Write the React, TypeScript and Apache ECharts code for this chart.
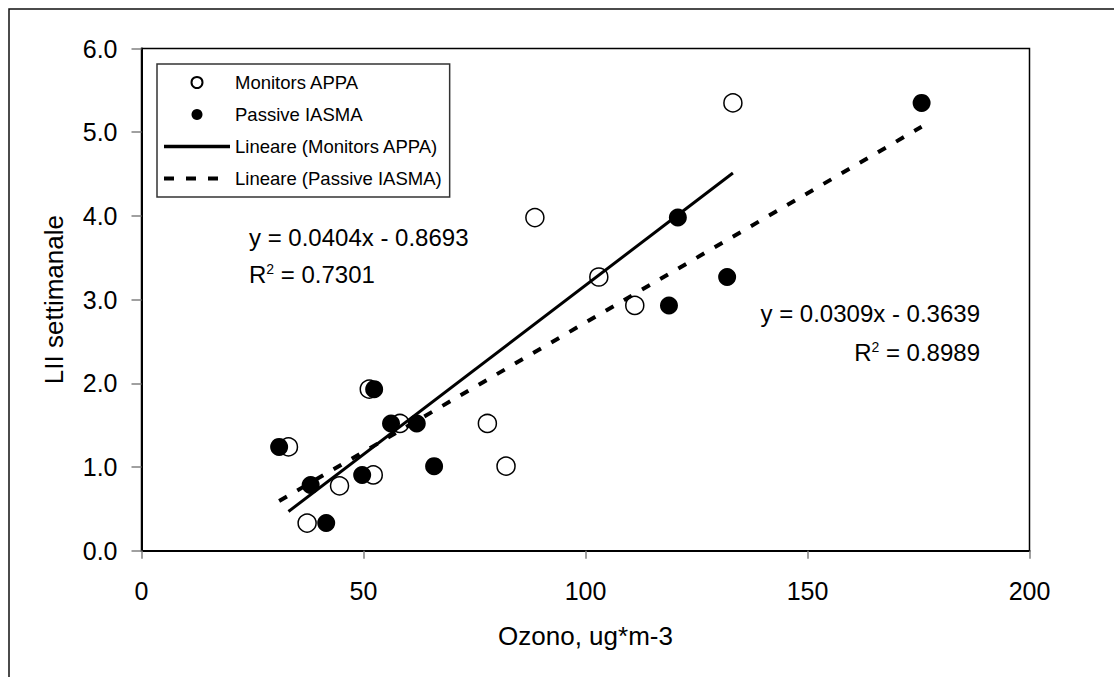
import React, { useEffect, useRef } from "react";
import * as echarts from "echarts";

const monitorsX = [133.2, 88.6, 103.0, 111.1, 51.3, 58.2, 77.9, 33.1, 82.1, 52.2, 44.6, 37.3];
const monitorsY = [5.35, 3.98, 3.27, 2.93, 1.93, 1.52, 1.52, 1.24, 1.01, 0.905, 0.775, 0.33];
const passiveX = [175.7, 120.8, 131.9, 118.8, 52.4, 56.2, 62.0, 31.0, 65.9, 49.7, 38.1, 41.6];
const passiveY = [5.35, 3.98, 3.27, 2.93, 1.93, 1.52, 1.52, 1.24, 1.01, 0.905, 0.785, 0.33];

const trendMonitors = [
  [33.1, 0.468],
  [133.2, 4.512],
];
const trendPassive = [
  [31.0, 0.594],
  [175.7, 5.065],
];

const seriesNames = [
  "Monitors APPA",
  "Passive IASMA",
  "Lineare (Monitors APPA)",
  "Lineare (Passive IASMA)",
];
const eqMonitors = ["y = 0.0404x - 0.8693", "R{s|2} = 0.7301"];
const eqPassive = ["y = 0.0309x - 0.3639", "R{s|2} = 0.8989"];

const xTitle = "Ozono, ug*m-3";
const yTitle = "LII settimanale";

const FONT = "'Liberation Sans', Arial, Helvetica, sans-serif";

export default function App() {
  const ref = useRef<HTMLDivElement>(null);

  useEffect(() => {
    if (!ref.current) return;
    const chart = echarts.init(ref.current, null, { renderer: "svg" });
    const zip = (xs: number[], ys: number[]) => xs.map((x, i) => [x, ys[i]]);

    const richSup = {
      s: { fontSize: 14, fontFamily: FONT, fill: "#000", verticalAlign: "top", lineHeight: 14 },
    };
    const hiddenDot = { opacity: 0, color: "rgba(0,0,0,0)", borderWidth: 0 };
    const solidStyle = { color: "#000", width: 3, type: "solid" };
    const dashStyle = { color: "#000", width: 4, type: [9, 12] };

    chart.setOption({
      animation: false,
      backgroundColor: "#fff",
      textStyle: { fontFamily: FONT },
      grid: {
        left: 141.5,
        top: 48.5,
        right: 84.5,
        bottom: 126.3,
        show: true,
        borderColor: "#000",
        borderWidth: 1.5,
        backgroundColor: "transparent",
      },
      legend: {
        orient: "vertical",
        left: 157,
        top: 64,
        padding: [9, 8, 9, 5],
        itemWidth: 66,
        itemHeight: 11,
        itemGap: 13,
        backgroundColor: "#fff",
        borderColor: "#333",
        borderWidth: 1.5,
        textStyle: { fontSize: 18.5, color: "#000", fontFamily: FONT },
        data: [
          { name: seriesNames[0] },
          { name: seriesNames[1] },
          { name: seriesNames[2], itemStyle: hiddenDot, lineStyle: { ...solidStyle, width: 3.5 } },
          { name: seriesNames[3], itemStyle: hiddenDot, lineStyle: { ...dashStyle, type: [10, 12] } },
        ],
      },
      xAxis: {
        type: "value",
        min: 0,
        max: 200,
        interval: 50,
        name: xTitle,
        nameLocation: "middle",
        nameGap: 72,
        nameTextStyle: { fontSize: 26, color: "#000", fontFamily: FONT },
        axisLine: { show: true, lineStyle: { color: "#000", width: 2 } },
        axisTick: { show: true, length: 8, lineStyle: { color: "#808080", width: 1.5 } },
        axisLabel: { fontSize: 25, color: "#000", margin: 28, fontFamily: FONT },
        splitLine: { show: false },
      },
      yAxis: {
        type: "value",
        min: 0,
        max: 6,
        interval: 1,
        name: yTitle,
        nameLocation: "middle",
        nameGap: 75,
        nameTextStyle: { fontSize: 26, color: "#000", fontFamily: FONT },
        axisLine: { show: true, lineStyle: { color: "#000", width: 2 } },
        axisTick: { show: true, length: 10, lineStyle: { color: "#808080", width: 1.5 } },
        axisLabel: {
          fontSize: 25,
          color: "#000",
          margin: 24,
          fontFamily: FONT,
          formatter: (v: number) => v.toFixed(1),
        },
        splitLine: { show: false },
      },
      series: [
        {
          name: seriesNames[0],
          type: "scatter",
          symbol: "circle",
          symbolSize: 18,
          itemStyle: { color: "#fff", borderColor: "#000", borderWidth: 1.5, opacity: 1 },
          data: zip(monitorsX, monitorsY),
        },
        {
          name: seriesNames[1],
          type: "scatter",
          symbol: "circle",
          symbolSize: 18,
          itemStyle: { color: "#000", opacity: 1 },
          data: zip(passiveX, passiveY),
        },
        {
          name: seriesNames[2],
          type: "line",
          symbol: "none",
          showSymbol: false,
          itemStyle: { color: "#000" },
          lineStyle: solidStyle,
          data: trendMonitors,
        },
        {
          name: seriesNames[3],
          type: "line",
          symbol: "none",
          showSymbol: false,
          itemStyle: { color: "#000" },
          lineStyle: dashStyle,
          data: trendPassive,
        },
      ],
      graphic: [
        {
          type: "rect",
          silent: true,
          z: 0,
          shape: { x: 9, y: 9, width: 1130, height: 700 },
          style: { fill: "none", stroke: "#111", lineWidth: 1.5 },
        },
        {
          type: "text",
          x: 249,
          y: 237,
          style: {
            text: eqMonitors[0],
            fontSize: 24,
            fontFamily: FONT,
            fill: "#000",
            align: "left",
            verticalAlign: "middle",
          },
        },
        {
          type: "text",
          x: 249,
          y: 274,
          style: {
            text: eqMonitors[1],
            fontSize: 24,
            fontFamily: FONT,
            fill: "#000",
            align: "left",
            verticalAlign: "middle",
            rich: richSup,
          },
        },
        {
          type: "text",
          x: 980,
          y: 313,
          style: {
            text: eqPassive[0],
            fontSize: 24,
            fontFamily: FONT,
            fill: "#000",
            align: "right",
            verticalAlign: "middle",
          },
        },
        {
          type: "text",
          x: 980,
          y: 352,
          style: {
            text: eqPassive[1],
            fontSize: 24,
            fontFamily: FONT,
            fill: "#000",
            align: "right",
            verticalAlign: "middle",
            rich: richSup,
          },
        },
      ],
    });

    return () => chart.dispose();
  }, []);

  return (
    <div
      ref={ref}
      style={{ position: "absolute", left: 0, top: 0, width: 1114, height: 677, background: "#fff" }}
    />
  );
}
